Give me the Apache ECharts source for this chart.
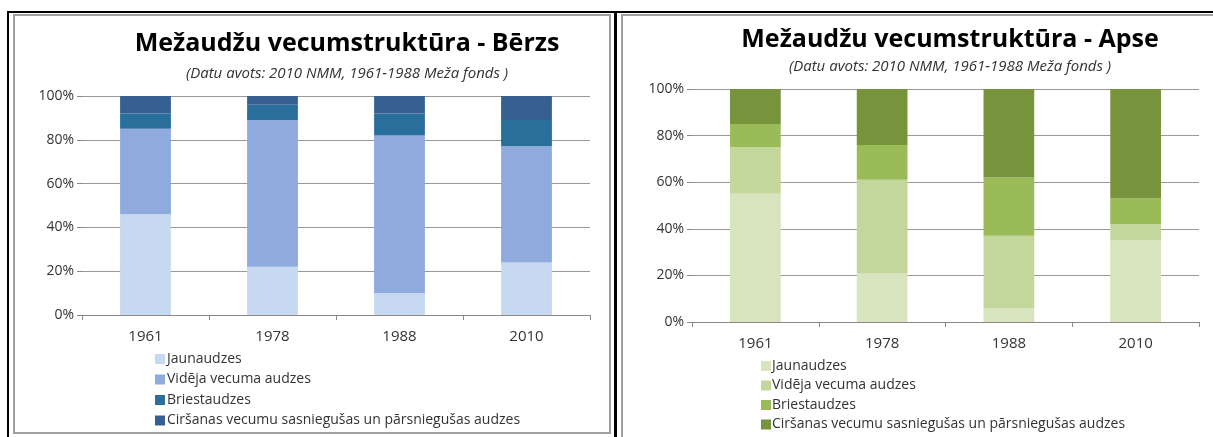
<!DOCTYPE html>
<html lang="lv">
<head>
<meta charset="utf-8" />
<title>Mežaudžu vecumstruktūra</title>
<style type="text/css">
    html, body { margin: 0; padding: 0; background: #fff; }
    #chart { width: 1213px; height: 437px; }
</style>
</head>
<body>
<div id="chart"></div>
<script src="https://cdn.jsdelivr.net/npm/echarts@6/dist/echarts.min.js"></script>
<script>
    // categories (years)
    const years = ['1961', '1978', '1988', '2010'];
    const seriesNames = [
        'Jaunaudzes',
        'Vidēja vecuma audzes',
        'Briestaudzes',
        'Ciršanas vecumu sasniegušas un pārsniegušas audzes'
    ];

    // Bērzs (%)
    const berzsJaun = [46, 22, 10, 24];
    const berzsVid = [39, 67, 72, 53];
    const berzsBriest = [7, 7, 10, 12];
    const berzsCirs = [8, 4, 8, 11];

    // Apse (%)
    const apseJaun = [55, 21, 6, 35];
    const apseVid = [20, 40, 31, 7];
    const apseBriest = [10, 15, 25, 11];
    const apseCirs = [15, 24, 38, 47];

    const yTicks = [0, 20, 40, 60, 80, 100];

    const blueColors = ['#c6d9f1', '#8faadc', '#2a6f9c', '#376092'];
    const greenColors = ['#d7e4bd', '#c3d69b', '#9bbb59', '#77933c'];

    const font = 'Open Sans, Noto Sans, sans-serif';

    const makeX = (gridIndex) => ({
        type: 'category',
        gridIndex: gridIndex,
        data: years,
        axisLine: { lineStyle: { color: '#888', width: 1 } },
        axisTick: { show: true, length: 5, lineStyle: { color: '#888' } },
        axisLabel: { color: '#333', fontSize: 15, fontFamily: font, margin: 14 }
    });
    const makeY = (gridIndex) => ({
        type: 'value',
        gridIndex: gridIndex,
        min: yTicks[0],
        max: yTicks[yTicks.length - 1],
        interval: 20,
        axisLine: { show: false },
        axisTick: { show: true, length: 5, lineStyle: { color: '#888' } },
        splitLine: { lineStyle: { color: '#999', width: 1 } },
        axisLabel: { color: '#333', fontSize: 14, fontFamily: font, formatter: '{value}%', margin: 8 }
    });

    const makeSeries = (values, colors, axisIndex) => values.map((vals, i) => ({
        name: seriesNames[i],
        type: 'bar',
        stack: 'total' + axisIndex,
        xAxisIndex: axisIndex,
        yAxisIndex: axisIndex,
        barWidth: '40%',
        itemStyle: { color: colors[i] },
        data: vals
    }));

    const berzsSeries = makeSeries([berzsJaun, berzsVid, berzsBriest, berzsCirs], blueColors, 0);
    const apseSeries = makeSeries([apseJaun, apseVid, apseBriest, apseCirs], greenColors, 1);
    apseSeries.forEach((s) => { s.id = 'apse-' + s.name; });

    const chart = echarts.init(document.getElementById('chart'), null, { renderer: 'canvas' });

    const subStyle = { fontSize: 15, fontWeight: 'normal', fontStyle: 'italic', color: '#333', fontFamily: font };

    const option = {
        animation: false,
        backgroundColor: '#fff',
        title: [
            {
                text: 'Mežaudžu vecumstruktūra - Bērzs',
                left: 342, top: 26, textAlign: 'center',
                textStyle: { fontSize: 25, fontWeight: 'bold', color: '#000', fontFamily: font }
            },
            {
                text: '(Datu avots: 2010 NMM, 1961-1988 Meža fonds )',
                left: 342, top: 61, textAlign: 'center',
                textStyle: subStyle
            },
            {
                text: 'Mežaudžu vecumstruktūra - Apse',
                left: 945, top: 22, textAlign: 'center',
                textStyle: { fontSize: 25, fontWeight: 'bold', color: '#000', fontFamily: font }
            },
            {
                text: '(Datu avots: 2010 NMM, 1961-1988 Meža fonds )',
                left: 945, top: 54, textAlign: 'center',
                textStyle: subStyle
            }
        ],
        legend: [
            {
                orient: 'vertical', left: 150, top: 347,
                itemWidth: 10, itemHeight: 10, itemGap: 6.5,
                icon: 'rect',
                data: seriesNames,
                textStyle: { color: '#333', fontSize: 14, fontFamily: font, padding: [0, 0, 0, -3] },
                selectedMode: false
            }
        ],
        grid: [
            { left: 82, top: 96, width: 508, height: 219 },
            { left: 692, top: 89, width: 507, height: 233 }
        ],
        xAxis: [makeX(0), makeX(1)],
        yAxis: [makeY(0), makeY(1)],
        series: berzsSeries.concat(apseSeries),
        graphic: [
            // outer black frame lines
            { type: 'rect', shape: { x: 7, y: 11, width: 1206, height: 2 }, style: { fill: '#000' }, silent: true },
            { type: 'rect', shape: { x: 7, y: 11, width: 2, height: 426 }, style: { fill: '#000' }, silent: true },
            { type: 'rect', shape: { x: 614, y: 11, width: 3, height: 426 }, style: { fill: '#000' }, silent: true },
            // inner grey frames
            { type: 'rect', shape: { x: 14, y: 15, width: 596, height: 418 }, style: { fill: 'none', stroke: '#a0a0a0', lineWidth: 2 }, silent: true },
            { type: 'rect', shape: { x: 622, y: 15, width: 600, height: 430 }, style: { fill: 'none', stroke: '#a0a0a0', lineWidth: 2 }, silent: true }
        ]
    };

    chart.setOption(option);

    // legend for the Apse chart, with the green swatches
    const apseLegendItems = seriesNames.map((name, i) => ({
        type: 'group',
        left: 761,
        top: 359 + i * 19.5,
        children: [
            { type: 'rect', shape: { x: 0, y: 2, width: 10, height: 10 }, style: { fill: greenColors[i] } },
            { type: 'text', left: 11, top: 0, style: { text: name, fill: '#333', font: '14px ' + font } }
        ]
    }));
    chart.setOption({ graphic: option.graphic.concat(apseLegendItems) });
</script>
</body>
</html>
